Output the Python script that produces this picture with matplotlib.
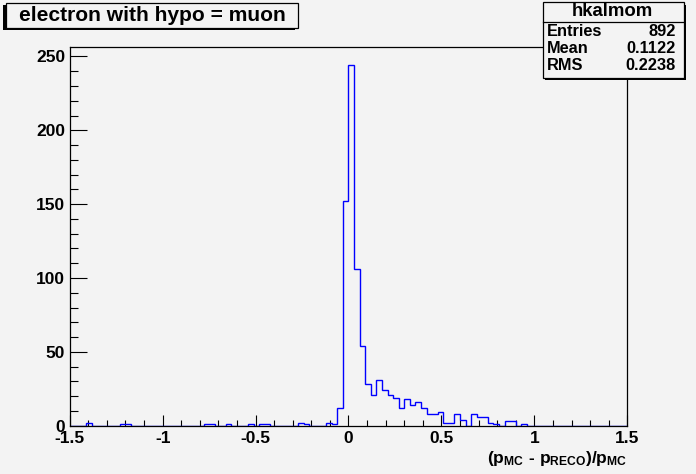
import numpy as np
import matplotlib
matplotlib.use("Agg")
import matplotlib.pyplot as plt
from matplotlib.patches import Rectangle
from matplotlib.lines import Line2D
from matplotlib.ticker import MultipleLocator

plt.rcParams['font.family'] = ['Liberation Sans', 'DejaVu Sans']
plt.rcParams['mathtext.fontset'] = 'custom'
plt.rcParams['mathtext.bf'] = 'Liberation Sans:bold'
plt.rcParams['mathtext.rm'] = 'Liberation Sans:bold'
plt.rcParams['mathtext.it'] = 'Liberation Sans:bold'

# ---- data ----
x_min, x_max, n_bins = -1.5, 1.5, 100
# nonzero bin contents: bin index -> count
bin_index = [3, 9, 10, 24, 25, 28, 32, 34, 35, 41, 42, 46, 47,
             48, 49, 50, 51, 52, 53, 54, 55, 56, 57, 58, 59, 60, 61, 62, 63,
             64, 65, 66, 67, 68, 69, 70, 72, 73, 74, 75, 76, 78, 79, 81]
bin_count = [2, 1, 1, 1, 1, 1, 1, 1, 1, 2, 1, 2, 1,
             12, 152, 244, 106, 54, 28, 21, 31, 24, 21, 19, 12, 18, 14, 16, 12,
             8, 8, 9, 2, 2, 8, 4, 8, 6, 6, 2, 1, 3, 3, 1]
x_ticks = [-1.5, -1, -0.5, 0, 0.5, 1, 1.5]
x_tick_labels = ["-1.5", "-1", "-0.5", "0", "0.5", "1", "1.5"]
y_ticks = [0, 50, 100, 150, 200, 250]
title = "electron with hypo = muon"
hist_name = "hkalmom"
stat_names = ["Entries", "Mean", "RMS"]
stat_values = ["892", "0.1122", "0.2238"]
x_label = r"$\mathbf{(p_{MC}\ \text{-}\ p_{RECO})/p_{MC}}$"

counts = np.zeros(n_bins)
counts[bin_index] = bin_count
edges = np.linspace(x_min, x_max, n_bins + 1)

W, H = 696, 474
bg = '#f3f3f3'
fig = plt.figure(figsize=(W / 100, H / 100), dpi=100, facecolor=bg)

def fx(x):
    return x / W

def fy(y):
    return 1 - y / H

ax = fig.add_axes([fx(69.7), fy(425.7), fx(627.3) - fx(69.7), fy(47.3) - fy(425.7)])
ax.set_facecolor(bg)
ax.stairs(counts, edges, color='#0000ff', lw=1.0, zorder=2)
ax.set_xlim(x_min, x_max)
ax.set_ylim(0, 1.05 * max(bin_count))

for s in ax.spines.values():
    s.set_linewidth(0.9)
    s.set_color('black')
    s.set_zorder(3)

ax.set_xticks(x_ticks)
ax.set_xticklabels(x_tick_labels)
ax.set_yticks(y_ticks)
ax.xaxis.set_minor_locator(MultipleLocator(0.1))
ax.yaxis.set_minor_locator(MultipleLocator(10))
ax.tick_params(axis='x', which='major', direction='in', length=7.9, width=0.8,
               pad=4.0, labelsize=12.5, top=False)
ax.tick_params(axis='x', which='minor', direction='in', length=4.0, width=0.8, top=False)
ax.tick_params(axis='y', which='major', direction='in', length=12.2, width=0.8,
               pad=3.2, labelsize=12.5, right=False)
ax.tick_params(axis='y', which='minor', direction='in', length=6.1, width=0.8, right=False)
for lab in ax.get_xticklabels() + ax.get_yticklabels():
    lab.set_fontweight('bold')

fig.text(fx(627), fy(458), x_label, ha='right', va='center', fontsize=12.5)

# ---- title box (shadow bottom-left) ----
tx0, tx1, ty0, ty1 = 5.5, 297.5, 3.0, 28.0
sh = 2.2
fig.patches.append(Rectangle((fx(tx0 - sh), fy(ty1 + sh)), fx(tx1 - tx0), fy(ty0) - fy(ty1),
                             transform=fig.transFigure, facecolor='black', edgecolor='none', zorder=5))
fig.patches.append(Rectangle((fx(tx0), fy(ty1)), fx(tx1 - tx0), fy(ty0) - fy(ty1),
                             transform=fig.transFigure, facecolor=bg, edgecolor='black', lw=0.9, zorder=6))
fig.text(fx(152), fy(15.5), title, ha='center', va='center',
         fontsize=15.1, fontweight='bold', zorder=7)

# ---- stats box (shadow bottom-right) ----
sx0, sx1, sy0, sy1 = 542.5, 683.5, 2.5, 77.7
fig.patches.append(Rectangle((fx(sx0 + sh), fy(sy1 + sh)), fx(sx1 - sx0), fy(sy0) - fy(sy1),
                             transform=fig.transFigure, facecolor='black', edgecolor='none', zorder=5))
fig.patches.append(Rectangle((fx(sx0), fy(sy1)), fx(sx1 - sx0), fy(sy0) - fy(sy1),
                             transform=fig.transFigure, facecolor=bg, edgecolor='black', lw=0.9, zorder=6))
fig.lines.append(Line2D([fx(sx0), fx(sx1)], [fy(21.7), fy(21.7)], transform=fig.transFigure,
                        color='black', lw=0.9, zorder=7))
fig.text(fx(612), fy(12), hist_name, ha='center', va='center', fontsize=13.4,
         fontweight='bold', zorder=8)
row_y = [31, 48.5, 66]
for name, val, yy in zip(stat_names, stat_values, row_y):
    fig.text(fx(546.5), fy(yy), name, ha='left', va='center', fontsize=11.8,
             fontweight='bold', zorder=8)
    fig.text(fx(676), fy(yy), val, ha='right', va='center', fontsize=11.8,
             fontweight='bold', zorder=8)

fig.savefig("out.png", dpi=100, facecolor=bg)
